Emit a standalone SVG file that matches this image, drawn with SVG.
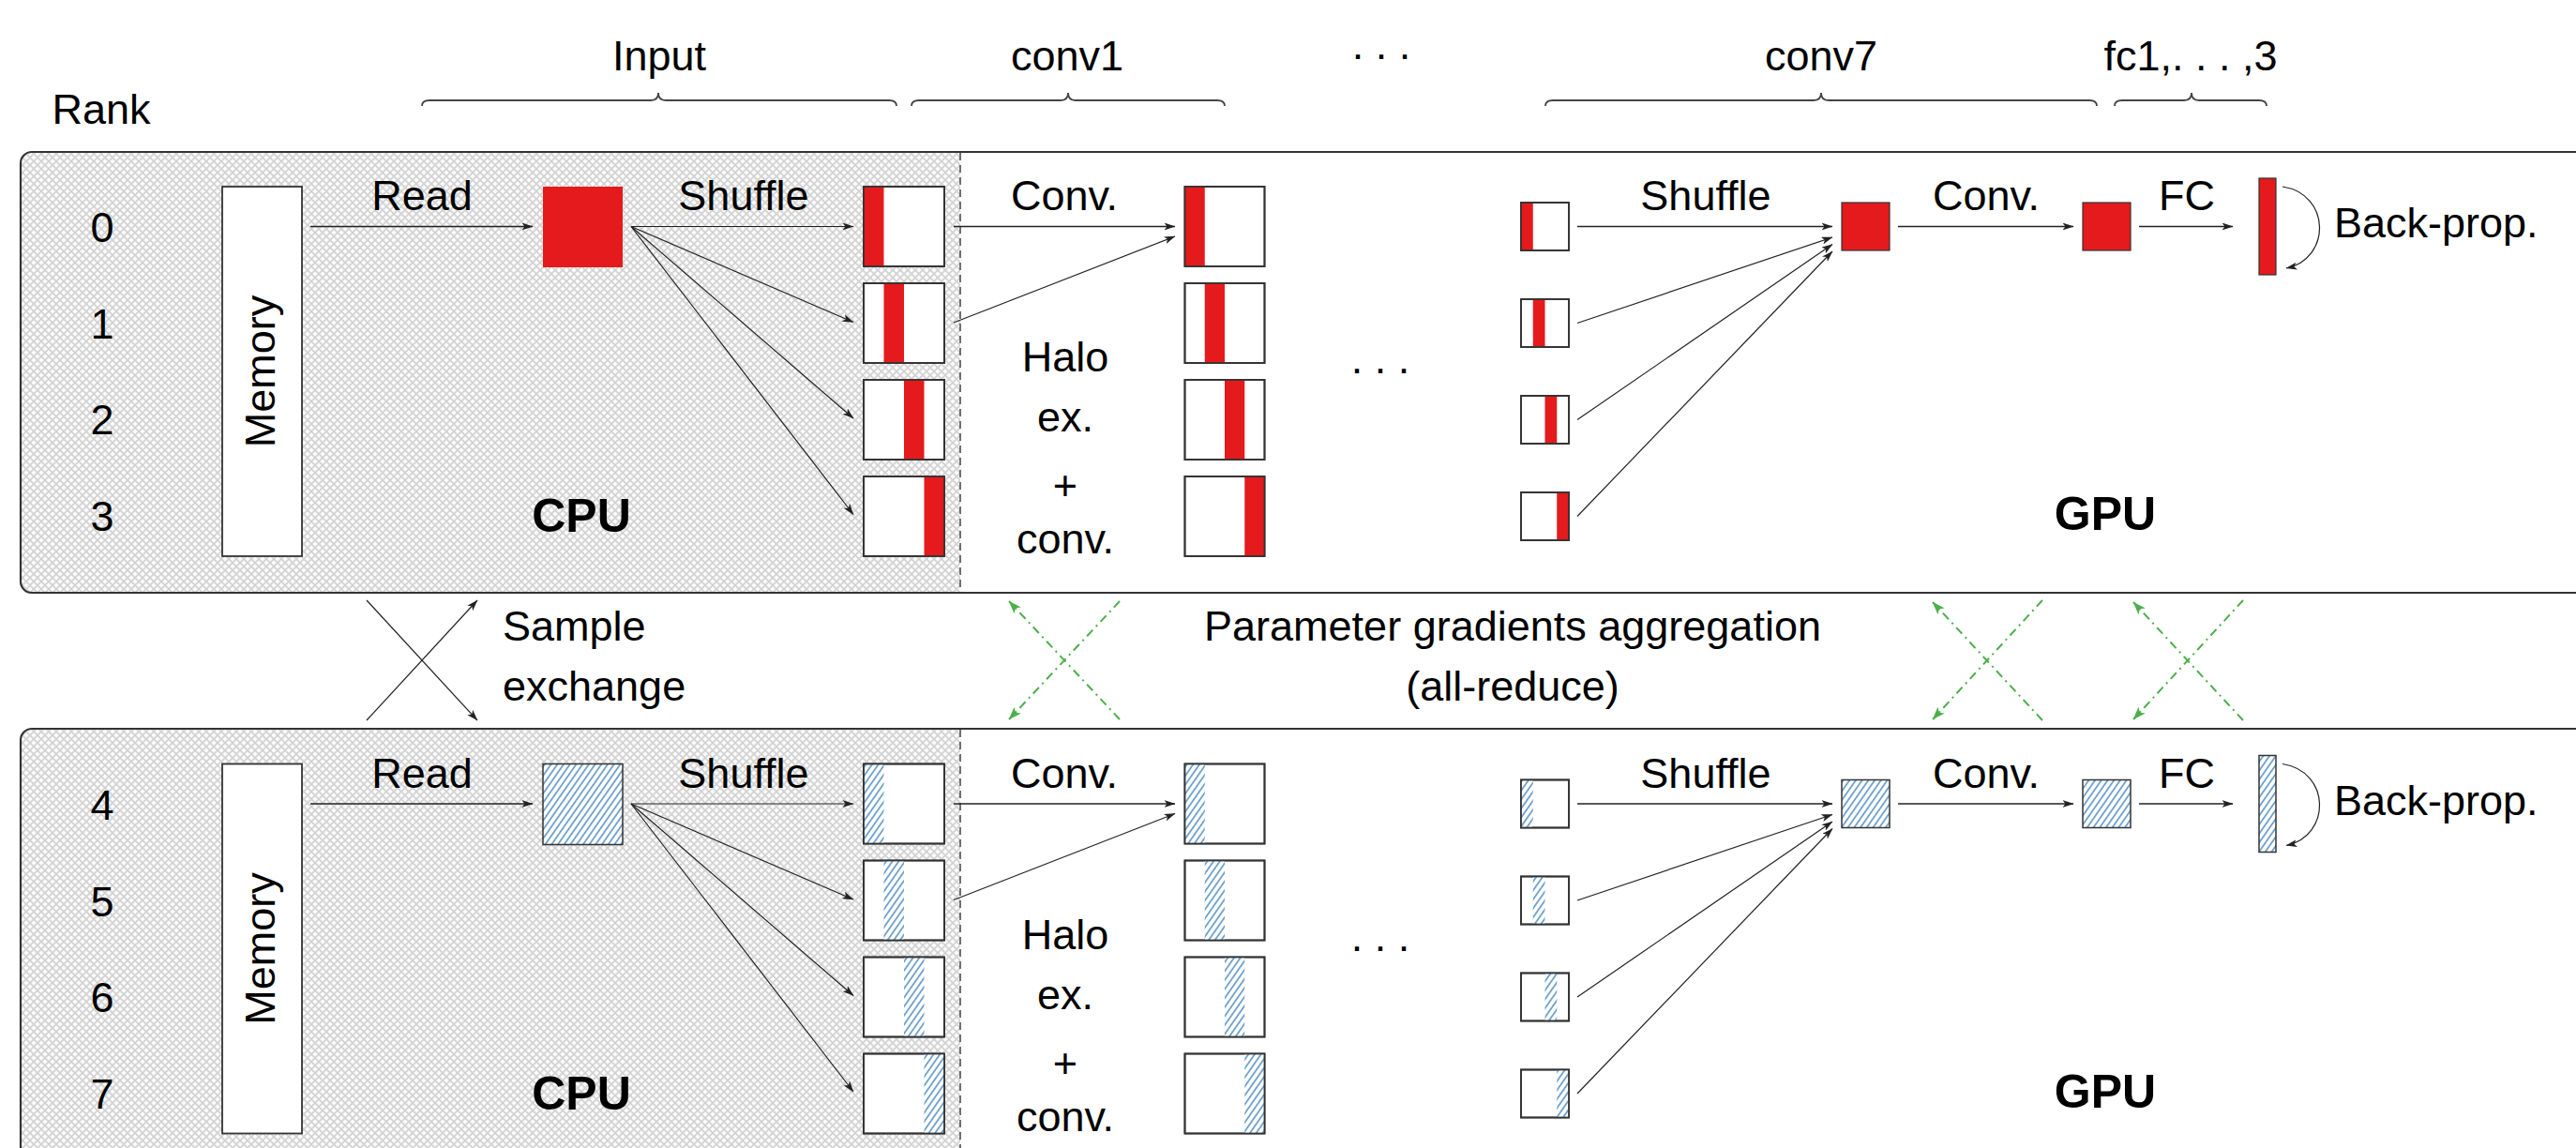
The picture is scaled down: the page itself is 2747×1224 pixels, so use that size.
<svg xmlns="http://www.w3.org/2000/svg" width="2747" height="1224" viewBox="0 0 2747 1224">
  <defs>
    <style>
      .lbl { font-family: "Liberation Sans", Arial, sans-serif; font-size: 45px; fill: #000; }
      .mid { text-anchor: middle; }
      .bold { font-weight: bold; font-size: 50px; }
      .box { fill: none; stroke: #333; stroke-width: 1.8; }
      .wbox { fill: #fff; stroke: #333; stroke-width: 1.8; }
      .red { fill: #e41a1c; }
      .hat { fill: url(#hatch); }
      .hatbox { fill: #fff; }
      .arr { fill: none; stroke: #222; stroke-width: 1.5; marker-end: url(#ah); }
      .thin { stroke-width: 1.2; }
      .green { fill: none; stroke: #4daf4a; stroke-width: 2; stroke-dasharray: 9 5 2 5; marker-end: url(#gh); }
      .greentail { fill: none; stroke: #4daf4a; stroke-width: 2; stroke-dasharray: 9 5 2 5; }
      .brace { fill: none; stroke: #444; stroke-width: 1.8; }
      .frame { fill: none; stroke: #333; stroke-width: 2.2; }
      .divider { stroke: #444; stroke-width: 1.5; stroke-dasharray: 8 5; }
    </style>
    <marker id="ah" viewBox="0 0 12 8" refX="11.5" refY="4" markerWidth="12" markerHeight="8" markerUnits="userSpaceOnUse" orient="auto">
      <path d="M0,0 L12,4 L0,8 L3,4 z" fill="#222"/>
    </marker>
    <marker id="gh" viewBox="0 0 14 10" refX="13.5" refY="5" markerWidth="14" markerHeight="10" markerUnits="userSpaceOnUse" orient="auto">
      <path d="M0,0 L14,5 L0,10 L3.5,5 z" fill="#4daf4a"/>
    </marker>
    <!-- blue north-east hatching for the second sample -->
    <pattern id="hatch" patternUnits="userSpaceOnUse" width="5.5" height="10" patternTransform="rotate(35)">
      <rect width="5.5" height="10" fill="#fff"/>
      <line x1="2.75" y1="0" x2="2.75" y2="10" stroke="#377eb8" stroke-width="1.3"/>
    </pattern>
    <!-- light crosshatch for the CPU area -->
    <pattern id="xh" patternUnits="userSpaceOnUse" width="8" height="8">
      <rect width="8" height="8" fill="#fbfbfb"/>
      <path d="M-1,-1 L9,9 M9,-1 L-1,9" stroke="#d2d2d2" stroke-width="1.7"/>
    </pattern>
  </defs>

  <rect width="2747" height="1224" fill="#fff"/>

  <!-- column headers with braces -->
  <g id="headers">
    <text class="lbl" x="108" y="132" text-anchor="middle">Rank</text>
    <text class="lbl mid" x="703" y="75">Input</text>
    <text class="lbl mid" x="1138" y="75">conv1</text>
    <text class="lbl mid" x="1473" y="63" font-size="42">. . .</text>
    <text class="lbl mid" x="1942" y="75">conv7</text>
    <text class="lbl mid" x="2336" y="75">fc1,. . . ,3</text>
    <path class="brace" d="M450,113 Q450,107 458,107 H694 Q702,107 702,99 Q702,107 710,107 H948 Q956,107 956,113"/>
    <path class="brace" d="M972,113 Q972,107 980,107 H1131 Q1139,107 1139,99 Q1139,107 1147,107 H1298 Q1306,107 1306,113"/>
    <path class="brace" d="M1648,113 Q1648,107 1656,107 H1934 Q1942,107 1942,99 Q1942,107 1950,107 H2228 Q2236,107 2236,113"/>
    <path class="brace" d="M2255,113 Q2255,107 2263,107 H2329 Q2337,107 2337,99 Q2337,107 2345,107 H2409 Q2417,107 2417,113"/>
  </g>

  <!-- ===== upper group of ranks (0-3) ===== -->
  <g id="panel-top">
    <path d="M1024,162 H34 A12,12 0 0 0 22,174 V620 A12,12 0 0 0 34,632 H1024 Z" fill="url(#xh)"/>
    <path class="frame" d="M2760,162 H34 A12,12 0 0 0 22,174 V620 A12,12 0 0 0 34,632 H2760"/>
    <line class="divider" x1="1024" y1="163" x2="1024" y2="631"/>
    <text class="lbl mid" x="109" y="258">0</text>
    <text class="lbl mid" x="109" y="361">1</text>
    <text class="lbl mid" x="109" y="463">2</text>
    <text class="lbl mid" x="109" y="566">3</text>
    <text class="lbl bold mid" x="620" y="567">CPU</text>
    <text class="lbl bold mid" x="2245" y="565">GPU</text>
  </g>

  <g id="memory-top">
    <rect class="wbox" x="237" y="199" width="85" height="394"/>
    <text class="lbl mid" font-size="46" transform="translate(293,396) rotate(-90)">Memory</text>
  </g>
  <g id="sample-top">
    <rect class="red" x="579" y="199" width="85" height="86"/>
  </g>
  <g id="input-top">
    <rect class="wbox" x="921" y="199" width="86" height="85"/><rect class="red" x="921" y="199" width="21.5" height="85"/><rect class="box" x="921" y="199" width="86" height="85"/>
    <rect class="wbox" x="921" y="302" width="86" height="85"/><rect class="red" x="942.5" y="302" width="21.5" height="85"/><rect class="box" x="921" y="302" width="86" height="85"/>
    <rect class="wbox" x="921" y="405" width="86" height="85"/><rect class="red" x="964" y="405" width="21.5" height="85"/><rect class="box" x="921" y="405" width="86" height="85"/>
    <rect class="wbox" x="921" y="508" width="86" height="85"/><rect class="red" x="985.5" y="508" width="21.5" height="85"/><rect class="box" x="921" y="508" width="86" height="85"/>
  </g>
  <g id="conv1-top">
    <rect class="wbox" x="1263.5" y="199" width="85" height="85"/><rect class="red" x="1263.5" y="199" width="21.25" height="85"/><rect class="box" x="1263.5" y="199" width="85" height="85"/>
    <rect class="wbox" x="1263.5" y="302" width="85" height="85"/><rect class="red" x="1284.75" y="302" width="21.25" height="85"/><rect class="box" x="1263.5" y="302" width="85" height="85"/>
    <rect class="wbox" x="1263.5" y="405" width="85" height="85"/><rect class="red" x="1306" y="405" width="21.25" height="85"/><rect class="box" x="1263.5" y="405" width="85" height="85"/>
    <rect class="wbox" x="1263.5" y="508" width="85" height="85"/><rect class="red" x="1327.25" y="508" width="21.25" height="85"/><rect class="box" x="1263.5" y="508" width="85" height="85"/>
    <text class="lbl mid" x="1136" y="396">Halo</text>
    <text class="lbl mid" x="1136" y="460">ex.</text>
    <text class="lbl mid" x="1136" y="533" font-size="56">+</text>
    <text class="lbl mid" x="1136" y="590">conv.</text>
    <text class="lbl mid" x="1472" y="398" font-size="42">. . .</text>
  </g>
  <g id="conv7-in-top">
    <rect class="wbox" x="1622" y="216" width="51" height="51"/><rect class="red" x="1622" y="216" width="12.75" height="51"/><rect class="box" x="1622" y="216" width="51" height="51"/>
    <rect class="wbox" x="1622" y="319" width="51" height="51"/><rect class="red" x="1634.75" y="319" width="12.75" height="51"/><rect class="box" x="1622" y="319" width="51" height="51"/>
    <rect class="wbox" x="1622" y="422" width="51" height="51"/><rect class="red" x="1647.5" y="422" width="12.75" height="51"/><rect class="box" x="1622" y="422" width="51" height="51"/>
    <rect class="wbox" x="1622" y="525" width="51" height="51"/><rect class="red" x="1660.25" y="525" width="12.75" height="51"/><rect class="box" x="1622" y="525" width="51" height="51"/>
  </g>
  <g id="conv7-out-top">
    <rect class="red" x="1964" y="216" width="51" height="51" stroke="#333" stroke-width="1.2"/>
  </g>
  <g id="fc-in-top">
    <rect class="red" x="2221" y="216" width="51" height="51" stroke="#333" stroke-width="1.2"/>
  </g>
  <g id="fc-out-top">
    <rect class="red" x="2409" y="190" width="18" height="103" stroke="#333" stroke-width="1.2"/>
    <text class="lbl" x="2489" y="253">Back-prop.</text>
  </g>

  <!-- ===== lower group of ranks (4-7) ===== -->
  <g id="panel-bottom">
    <path d="M1024,777 H34 A12,12 0 0 0 22,789 V1260 H1024 Z" fill="url(#xh)"/>
    <path class="frame" d="M2760,777 H34 A12,12 0 0 0 22,789 V1260"/>
    <line class="divider" x1="1024" y1="778" x2="1024" y2="1224"/>
    <text class="lbl mid" x="109" y="873.5">4</text>
    <text class="lbl mid" x="109" y="976.5">5</text>
    <text class="lbl mid" x="109" y="1078.5">6</text>
    <text class="lbl mid" x="109" y="1181.5">7</text>
    <text class="lbl bold mid" x="620" y="1182.5">CPU</text>
    <text class="lbl bold mid" x="2245" y="1180.5">GPU</text>
  </g>

  <g id="memory-bottom">
    <rect class="wbox" x="237" y="814.5" width="85" height="394"/>
    <text class="lbl mid" font-size="46" transform="translate(293,1011.5) rotate(-90)">Memory</text>
  </g>
  <g id="sample-bottom">
    <rect class="hat" x="579" y="814.5" width="85" height="86" stroke="#333" stroke-width="1.5"/>
  </g>
  <g id="input-bottom">
    <rect class="wbox" x="921" y="814.5" width="86" height="85"/><rect class="hat" x="921" y="814.5" width="21.5" height="85"/><rect class="box" x="921" y="814.5" width="86" height="85"/>
    <rect class="wbox" x="921" y="917.5" width="86" height="85"/><rect class="hat" x="942.5" y="917.5" width="21.5" height="85"/><rect class="box" x="921" y="917.5" width="86" height="85"/>
    <rect class="wbox" x="921" y="1020.5" width="86" height="85"/><rect class="hat" x="964" y="1020.5" width="21.5" height="85"/><rect class="box" x="921" y="1020.5" width="86" height="85"/>
    <rect class="wbox" x="921" y="1123.5" width="86" height="85"/><rect class="hat" x="985.5" y="1123.5" width="21.5" height="85"/><rect class="box" x="921" y="1123.5" width="86" height="85"/>
  </g>
  <g id="conv1-bottom">
    <rect class="wbox" x="1263.5" y="814.5" width="85" height="85"/><rect class="hat" x="1263.5" y="814.5" width="21.25" height="85"/><rect class="box" x="1263.5" y="814.5" width="85" height="85"/>
    <rect class="wbox" x="1263.5" y="917.5" width="85" height="85"/><rect class="hat" x="1284.75" y="917.5" width="21.25" height="85"/><rect class="box" x="1263.5" y="917.5" width="85" height="85"/>
    <rect class="wbox" x="1263.5" y="1020.5" width="85" height="85"/><rect class="hat" x="1306" y="1020.5" width="21.25" height="85"/><rect class="box" x="1263.5" y="1020.5" width="85" height="85"/>
    <rect class="wbox" x="1263.5" y="1123.5" width="85" height="85"/><rect class="hat" x="1327.25" y="1123.5" width="21.25" height="85"/><rect class="box" x="1263.5" y="1123.5" width="85" height="85"/>
    <text class="lbl mid" x="1136" y="1011.5">Halo</text>
    <text class="lbl mid" x="1136" y="1075.5">ex.</text>
    <text class="lbl mid" x="1136" y="1148.5" font-size="56">+</text>
    <text class="lbl mid" x="1136" y="1205.5">conv.</text>
    <text class="lbl mid" x="1472" y="1013.5" font-size="42">. . .</text>
  </g>
  <g id="conv7-in-bottom">
    <rect class="wbox" x="1622" y="831.5" width="51" height="51"/><rect class="hat" x="1622" y="831.5" width="12.75" height="51"/><rect class="box" x="1622" y="831.5" width="51" height="51"/>
    <rect class="wbox" x="1622" y="934.5" width="51" height="51"/><rect class="hat" x="1634.75" y="934.5" width="12.75" height="51"/><rect class="box" x="1622" y="934.5" width="51" height="51"/>
    <rect class="wbox" x="1622" y="1037.5" width="51" height="51"/><rect class="hat" x="1647.5" y="1037.5" width="12.75" height="51"/><rect class="box" x="1622" y="1037.5" width="51" height="51"/>
    <rect class="wbox" x="1622" y="1140.5" width="51" height="51"/><rect class="hat" x="1660.25" y="1140.5" width="12.75" height="51"/><rect class="box" x="1622" y="1140.5" width="51" height="51"/>
  </g>
  <g id="conv7-out-bottom">
    <rect class="hat" x="1964" y="831.5" width="51" height="51" stroke="#333" stroke-width="1.5"/>
  </g>
  <g id="fc-in-bottom">
    <rect class="hat" x="2221" y="831.5" width="51" height="51" stroke="#333" stroke-width="1.5"/>
  </g>
  <g id="fc-out-bottom">
    <rect class="hat" x="2409" y="805.5" width="18" height="103" stroke="#333" stroke-width="1.5"/>
    <text class="lbl" x="2489" y="868.5">Back-prop.</text>
  </g>

  <!-- exchange labels between the two groups -->
  <g id="exchange-labels">
    <text class="lbl" x="536" y="683">Sample</text>
    <text class="lbl" x="536" y="747">exchange</text>
    <text class="lbl mid" x="1613" y="683">Parameter gradients aggregation</text>
    <text class="lbl mid" x="1613" y="747">(all-reduce)</text>
  </g>

  <!-- ===== connectors ===== -->
  <g id="connectors">
    <g id="edges-top">
      <line class="arr" x1="331" y1="241.5" x2="568" y2="241.5"/>
      <line class="arr thin" x1="673" y1="241.5" x2="910" y2="241.5"/>
      <line class="arr thin" x1="673" y1="241.5" x2="910" y2="343.5"/>
      <line class="arr thin" x1="673" y1="241.5" x2="910" y2="446"/>
      <line class="arr thin" x1="673" y1="241.5" x2="910" y2="548.5"/>
      <line class="arr" x1="1017" y1="241.5" x2="1253" y2="241.5"/>
      <line class="arr thin" x1="1017" y1="344" x2="1253" y2="252"/>
      <line class="arr" x1="1682" y1="241.5" x2="1954" y2="241.5"/>
      <line class="arr thin" x1="1682" y1="344.5" x2="1954" y2="253"/>
      <line class="arr thin" x1="1682" y1="447.5" x2="1954" y2="260.5"/>
      <line class="arr thin" x1="1682" y1="550.5" x2="1954" y2="268"/>
      <line class="arr" x1="2024" y1="241.5" x2="2211" y2="241.5"/>
      <line class="arr" x1="2281" y1="241.5" x2="2381" y2="241.5"/>
      <path class="arr thin" d="M2434,199 C2486,207 2486,276 2438,286"/>
      <text class="lbl mid" x="450" y="224">Read</text>
      <text class="lbl mid" x="793" y="224">Shuffle</text>
      <text class="lbl mid" x="1135" y="224">Conv.</text>
      <text class="lbl mid" x="1819" y="224">Shuffle</text>
      <text class="lbl mid" x="2118" y="224">Conv.</text>
      <text class="lbl mid" x="2332" y="224">FC</text>
    </g>
    <g id="edges-bottom">
      <line class="arr" x1="331" y1="857" x2="568" y2="857"/>
      <line class="arr thin" x1="673" y1="857" x2="910" y2="857"/>
      <line class="arr thin" x1="673" y1="857" x2="910" y2="959"/>
      <line class="arr thin" x1="673" y1="857" x2="910" y2="1061.5"/>
      <line class="arr thin" x1="673" y1="857" x2="910" y2="1164"/>
      <line class="arr" x1="1017" y1="857" x2="1253" y2="857"/>
      <line class="arr thin" x1="1017" y1="959.5" x2="1253" y2="867.5"/>
      <line class="arr" x1="1682" y1="857" x2="1954" y2="857"/>
      <line class="arr thin" x1="1682" y1="960" x2="1954" y2="868.5"/>
      <line class="arr thin" x1="1682" y1="1063" x2="1954" y2="876"/>
      <line class="arr thin" x1="1682" y1="1166" x2="1954" y2="883.5"/>
      <line class="arr" x1="2024" y1="857" x2="2211" y2="857"/>
      <line class="arr" x1="2281" y1="857" x2="2381" y2="857"/>
      <path class="arr thin" d="M2434,814.5 C2486,822.5 2486,891.5 2438,901.5"/>
      <text class="lbl mid" x="450" y="839.5">Read</text>
      <text class="lbl mid" x="793" y="839.5">Shuffle</text>
      <text class="lbl mid" x="1135" y="839.5">Conv.</text>
      <text class="lbl mid" x="1819" y="839.5">Shuffle</text>
      <text class="lbl mid" x="2118" y="839.5">Conv.</text>
      <text class="lbl mid" x="2332" y="839.5">FC</text>
    </g>
    <g id="sample-exchange">
      <line class="arr thin" x1="391" y1="640" x2="509" y2="768"/>
      <line class="arr thin" x1="391" y1="768" x2="509" y2="640"/>
    </g>
    <g id="allreduce">
      <line class="green" x1="1194" y1="767" x2="1076" y2="641"/>
      <line class="green" x1="1194" y1="641" x2="1076" y2="767"/>
      <line class="green" x1="2178" y1="768" x2="2061" y2="642"/>
      <line class="green" x1="2178" y1="640" x2="2061" y2="767"/>
      <line class="green" x1="2392" y1="768" x2="2275" y2="642"/>
      <line class="green" x1="2392" y1="640" x2="2275" y2="767"/>
    </g>
  </g>
</svg>
